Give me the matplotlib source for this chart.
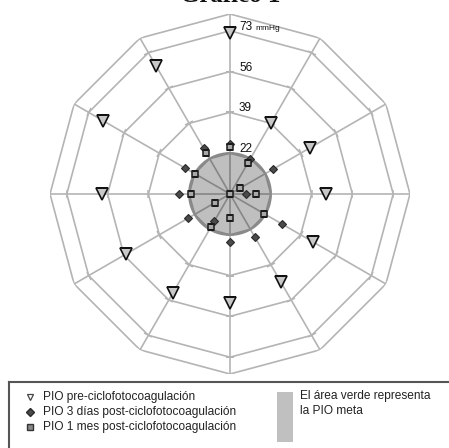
import numpy as np
import matplotlib
matplotlib.use("Agg")
import matplotlib.pyplot as plt
from matplotlib.patches import Rectangle
from matplotlib.markers import MarkerStyle
from matplotlib.transforms import Affine2D

plt.rcParams['font.family'] = ['Liberation Sans', 'DejaVu Sans']

# ---- data (mmHg), 12 eyes clockwise from top ----
n_axes = 12
pio_pre = [72, 39, 43.4, 45, 44.7, 47.2, 50.4, 52.6, 55, 58.3, 66.1, 66.5]
pio_3d = [26, 21.6, 25.9, 11.7, 30, 25.9, 25, 18.1, 25.2, 26.3, 26.5, 27]
pio_1m = [24.5, 19.9, 9.9, 15.8, 21.4, 5, 15, 21.1, 12.1, 21.3, 21.7, 24.6]
ring_values = [22, 39, 56, 73, 80]
ring_labels = ['22', '39', '56', '73']
r_min, r_max = 5, 80
pio_meta = 22

labels_legend = ['PIO pre-ciclofotocoagulación',
                 'PIO 3 días post-ciclofotocoagulación',
                 'PIO 1 mes post-ciclofotocoagulación']
meta_text = 'El área verde representa\nla PIO meta'

W, H = 449, 448
fig = plt.figure(figsize=(W / 100, H / 100), dpi=100)

cx, cy, R = 230, 194, 180
ax = fig.add_axes([(cx - R) / W, (H - cy - R) / H, 2 * R / W, 2 * R / H],
                  projection='polar')
ax.set_theta_zero_location('N')
ax.set_theta_direction(-1)
ax.set_ylim(r_min, r_max)
ax.grid(False)
ax.set_xticks([])
ax.set_yticks([])
ax.spines['polar'].set_visible(False)
ax.patch.set_alpha(0)

theta = np.linspace(0, 2 * np.pi, n_axes, endpoint=False)
theta_closed = np.append(theta, theta[0])

grid_col = '#b4b4b4'
for v in ring_values:
    ax.plot(theta_closed, [v] * (n_axes + 1), color=grid_col, lw=1.2, zorder=1)
for t in theta:
    ax.plot([t, t], [r_min, r_max], color=grid_col, lw=1.2, zorder=1)
    tick = MarkerStyle('_', transform=Affine2D().rotate_deg(-np.degrees(t)))
    ax.plot([t] * 4, ring_values[:4], linestyle='none', marker=tick,
            markersize=6, markeredgecolor=grid_col, markeredgewidth=1.1,
            zorder=1)

# target area (circle)
tt = np.linspace(0, 2 * np.pi, 361)
ax.fill(tt, [pio_meta] * len(tt), facecolor='black', alpha=0.25,
        edgecolor='none', zorder=2)
ax.plot(tt, [pio_meta] * len(tt), color='#8a8a8a', lw=1.6, zorder=2)

# ring labels
for v, lab in zip(ring_values[:4], ring_labels):
    ax.annotate(lab, xy=(0, v), xytext=(9, 4), textcoords='offset pixels',
                fontsize=8.5, ha='left', va='center', color='#111', zorder=6)
ax.annotate('mmHg', xy=(0, 73), xytext=(25, 2), textcoords='offset pixels',
            fontsize=6, ha='left', va='center', color='#111', zorder=6)

# data
ax.plot(theta, pio_pre, linestyle='none', marker='v', markersize=8.5,
        markerfacecolor='#c8c8c8', markeredgecolor='#111', markeredgewidth=1.2,
        zorder=5)
ax.plot(theta, pio_3d, linestyle='none', marker='D', markersize=4.3,
        markerfacecolor='#4a4a4a', markeredgecolor='#2a2a2a', markeredgewidth=0.8,
        zorder=4)
ax.plot(theta, pio_1m, linestyle='none', marker='s', markersize=4.2,
        markerfacecolor='#a8a8a8', markeredgecolor='#1a1a1a', markeredgewidth=1.1,
        zorder=4)

# title (mostly cut off at the top edge, as in the original)
fig.text(cx / W, 1 - 2.5 / H, 'Gráfico 1', fontsize=18, fontweight='bold',
         family='Liberation Serif', ha='center', va='baseline', color='#111')

# legend box
lx0, ly0 = 9, 382
lax = fig.add_axes([lx0 / W, -20 / H, (W + 20 - lx0) / W, (H + 20 - ly0) / H])
lax.set_xlim(lx0, W + 20)
lax.set_ylim(H + 20, ly0)
lax.set_xticks([])
lax.set_yticks([])
for s in lax.spines.values():
    s.set_color('#555555')
    s.set_linewidth(1.5)

ys = [397, 412, 427]
lax.plot([30], [ys[0]], linestyle='none', marker='v', markersize=5,
         markerfacecolor='white', markeredgecolor='#444', markeredgewidth=0.9)
lax.plot([30], [ys[1]], linestyle='none', marker='D', markersize=4,
         markerfacecolor='#4a4a4a', markeredgecolor='#2a2a2a')
lax.plot([30], [ys[2]], linestyle='none', marker='s', markersize=5,
         markerfacecolor='#888888', markeredgecolor='#333')
for y, lab in zip(ys, labels_legend):
    lax.text(43, y, lab, fontsize=8.6, ha='left', va='center', color='#222')
lax.add_patch(Rectangle((277, 392), 16, 50, facecolor='#c0c0c0', edgecolor='none'))
lax.text(300, 390, meta_text, fontsize=8.6, ha='left', va='top', color='#222',
         linespacing=1.3)

fig.savefig('out.png', dpi=100)
